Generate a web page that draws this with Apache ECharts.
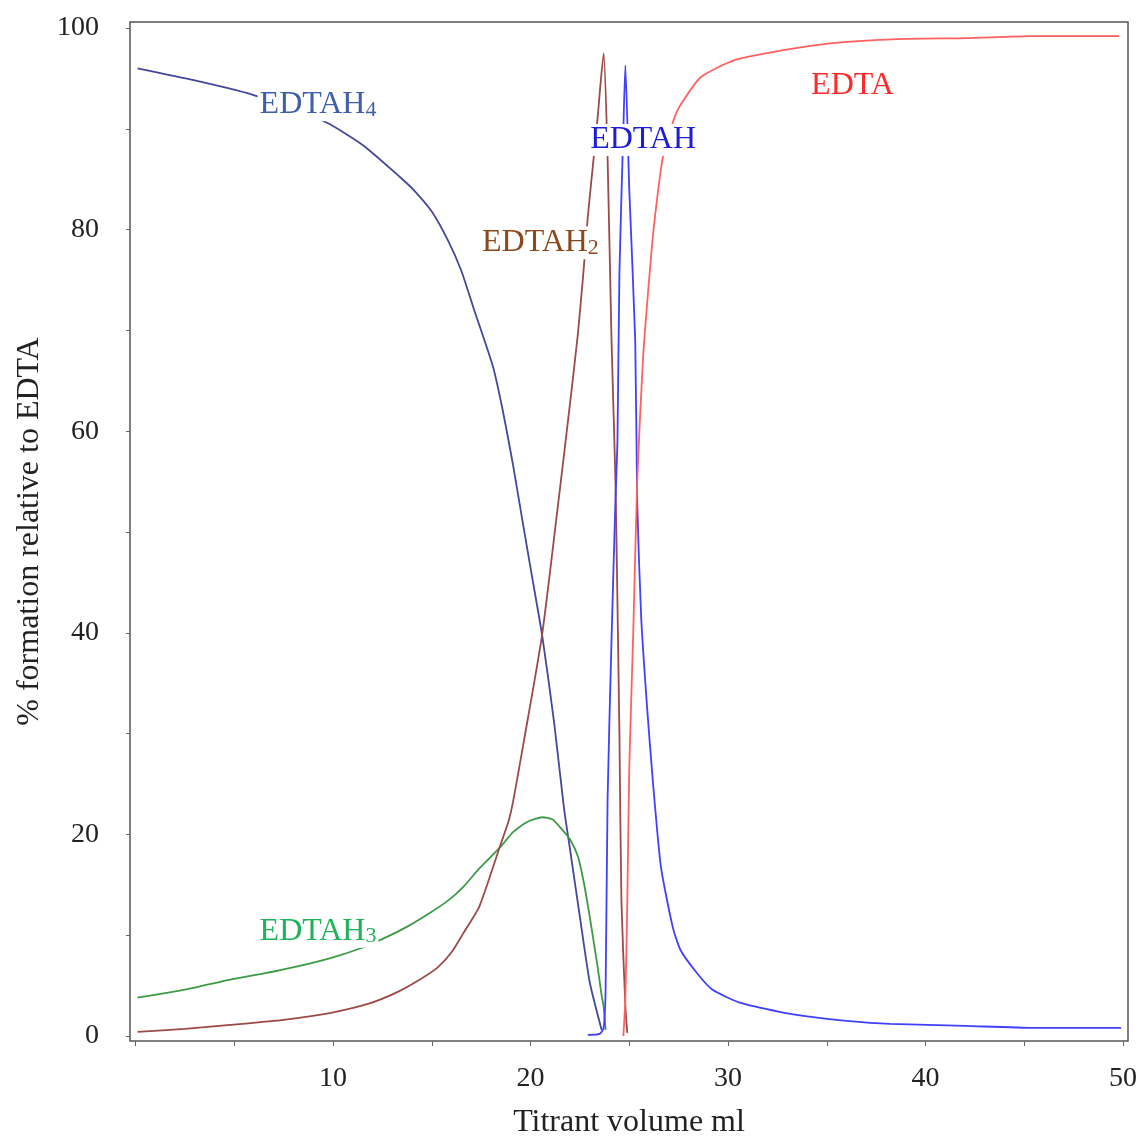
<!DOCTYPE html>
<html>
<head>
<meta charset="utf-8">
<script src="https://cdn.jsdelivr.net/npm/echarts@6/dist/echarts.min.js"></script>
<style>
html, body { margin: 0; padding: 0; background: #fff; }
#main { width: 1146px; height: 1139px; }
</style>
</head>
<body>
<div id="main"></div>
<script>
// values: [titrant ml, % formation]
var edtah4 = [[0.1, 96.0], [3, 94.8], [5.9, 93.4], [7.8, 92.1], [9.7, 90.6], [11.5, 88.4], [13.4, 85.2],
    [14.1, 83.9], [15.0, 81.8], [15.8, 79.0], [16.5, 75.9], [17.1, 72.3], [18.1, 66.4], [18.6, 62.0],
    [19.1, 56.8], [19.6, 51.0], [20.1, 45.3], [20.6, 39.6], [21.2, 31.0], [21.7, 22.5], [22.0, 18.5],
    [22.5, 11.8], [23.0, 5.3], [23.6, 0.6]];
var edtah3 = [[0.1, 3.8], [2.5, 4.6], [4.8, 5.6], [6.5, 6.2], [8.2, 6.9], [10, 7.8], [11.4, 8.7], [12.7, 9.8],
    [13.8, 10.9], [14.9, 12.2], [15.8, 13.4], [16.6, 14.8], [17.4, 16.6], [18.5, 18.8], [19.1, 20.2],
    [19.8, 21.2], [20.6, 21.7], [21.1, 21.5], [21.5, 20.7], [22.0, 19.5], [22.4, 17.8], [22.7, 15.2],
    [23.0, 11.8], [23.2, 9.3], [23.4, 6.8], [23.6, 4.0], [23.7, 2.9], [23.8, 0.6]];
var edtah2 = [[0.1, 0.4], [2.5, 0.7], [4.8, 1.1], [7.5, 1.6], [9.9, 2.3], [11.8, 3.2], [13.2, 4.3], [14.4, 5.6],
    [15.3, 6.8], [16.0, 8.3], [16.6, 10.2], [17.4, 12.8], [18.45, 18.8], [18.9, 21.4], [19.13, 23.4],
    [19.64, 29.0], [20.57, 39.6], [21.3, 51.2], [21.9, 61.1], [22.4, 69.7], [22.7, 76.3], [22.9, 81.3],
    [23.2, 87.2], [23.4, 91.2], [23.7, 97.5], [23.9, 87.2], [24.1, 69.0], [24.3, 55.0], [24.4, 43.0],
    [24.5, 30.0], [24.6, 13.5], [24.8, 3.0], [24.9, 0.3]];
var edtah = [[22.9, 0.1], [23.5, 0.2], [23.7, 0.8], [23.8, 4.6], [23.9, 23.4], [24.1, 39.3], [24.3, 53.2],
    [24.4, 59.0], [24.5, 75.7], [24.7, 90.0], [24.8, 96.3], [25.0, 83.9], [25.3, 69.0], [25.4, 53.0],
    [25.6, 41.6], [25.9, 32.6], [26.2, 25.1], [26.6, 16.8], [27.2, 10.8], [27.6, 8.5], [28.4, 6.3],
    [29.2, 4.6], [30.6, 3.3], [32.6, 2.4], [34.2, 1.9], [36, 1.5], [38.2, 1.2], [42, 1.0], [45.5, 0.8],
    [49.9, 0.8]];
var edta = [[24.7, 0], [24.8, 3.6], [24.9, 13.5], [25.0, 26.7], [25.2, 40.0], [25.4, 55.0], [25.7, 67.4],
    [26.1, 77.3], [26.3, 81.3], [26.7, 87.2], [27.3, 91.2], [27.6, 92.4], [28.6, 95.1], [30.3, 96.8],
    [32.8, 97.8], [35.3, 98.5], [38.6, 98.9], [42.1, 99.0], [45.4, 99.2], [49.8, 99.2]];

// ticks and tick labels
var xTicks = [0, 5, 10, 15, 20, 25, 30, 35, 40, 45, 50];
var xLabels = [10, 20, 30, 40, 50];
var yTicks = [0, 10, 20, 30, 40, 50, 60, 70, 80, 90, 100];
var yLabels = [0, 20, 40, 60, 80, 100];

// curve labels: name, subscript, position
var labelNames = ['EDTAH', 'EDTAH', 'EDTAH', 'EDTAH', 'EDTA'];
var labelSubs = ['4', '3', '2', '', ''];
var labelPos = [[9.24, 92.4], [9.24, 10.4], [20.5, 78.7], [25.7, 88.9], [36.3, 94.3]];

var FONT = 'Liberation Serif';

function makeLabel(i, color) {
    var txt = '{a|' + labelNames[i] + '}' + (labelSubs[i] ? '{s|' + labelSubs[i] + '}' : '');
    return {
        symbol: 'circle',
        symbolSize: 0,
        silent: true,
        data: [{ coord: labelPos[i] }],
        label: {
            show: true,
            position: 'inside',
            formatter: txt,
            backgroundColor: '#fff',
            padding: [0, 2],
            rich: {
                a: { fontFamily: FONT, fontSize: 32, color: color },
                s: { fontFamily: FONT, fontSize: 22, color: color, padding: [11, 0, 0, 0] }
            }
        }
    };
}

function lineSeries(name, data, color, labelIdx, labelColor) {
    return {
        name: name,
        type: 'line',
        data: data,
        showSymbol: false,
        smooth: 0.2,
        lineStyle: { color: color, width: 1.8 },
        markPoint: makeLabel(labelIdx, labelColor)
    };
}

var myChart = echarts.init(document.getElementById('main'));
myChart.setOption({
    animation: false,
    grid: {
        left: 130, right: 18, top: 22, bottom: 98,
        outerBoundsMode: 'none', containLabel: false,
        show: true, borderColor: '#555', borderWidth: 1.5
    },
    xAxis: {
        type: 'value',
        min: -0.28,
        max: 50.25,
        name: 'Titrant volume ml',
        nameLocation: 'middle',
        nameGap: 66,
        nameTextStyle: { fontFamily: FONT, fontSize: 32, color: '#222' },
        axisLine: { show: false, onZero: false },
        axisTick: { show: true, inside: false, length: 5, customValues: xTicks, lineStyle: { color: '#666' } },
        axisLabel: { fontFamily: FONT, fontSize: 28, color: '#222', margin: 24, customValues: xLabels },
        splitLine: { show: false }
    },
    yAxis: {
        type: 'value',
        min: -0.5,
        max: 100.6,
        name: '% formation relative to EDTA',
        nameLocation: 'middle',
        nameGap: 84,
        nameTextStyle: { fontFamily: FONT, fontSize: 32, color: '#222' },
        axisLine: { show: false, onZero: false },
        axisTick: { show: true, inside: false, length: 4, customValues: yTicks, lineStyle: { color: '#666' } },
        axisLabel: { fontFamily: FONT, fontSize: 28, color: '#222', margin: 31, customValues: yLabels },
        splitLine: { show: false }
    },
    series: [
        lineSeries('EDTAH4', edtah4, '#45479a', 0, '#3f5fa8'),
        lineSeries('EDTAH3', edtah3, '#3e9a45', 1, '#1fb25a'),
        lineSeries('EDTAH2', edtah2, '#9c4a48', 2, '#8b4a1e'),
        lineSeries('EDTAH', edtah, '#4040ff', 3, '#1c1cd9'),
        lineSeries('EDTA', edta, '#ff6060', 4, '#ff2a2a')
    ]
});
</script>
</body>
</html>
